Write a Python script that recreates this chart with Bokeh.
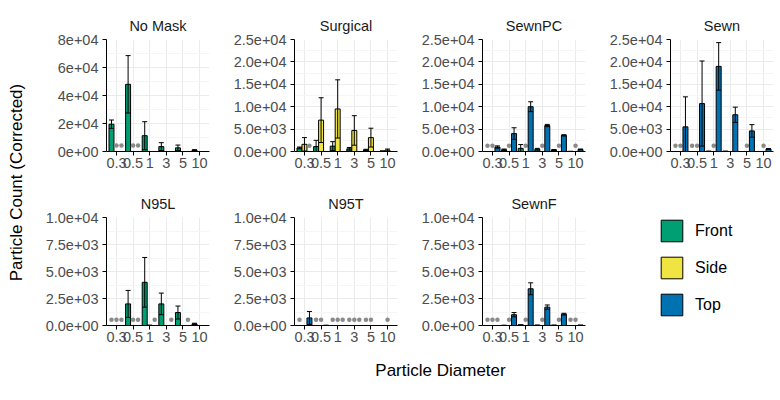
import math
from bokeh.plotting import figure
from bokeh.models import (ColumnDataSource, FactorRange, Range1d, FixedTicker,
                          Legend, LegendItem)
from bokeh.transform import dodge
from bokeh.layouts import row, column
from bokeh.core.properties import value
from bokeh.embed import file_html
from bokeh.resources import INLINE

# ---------------- data ----------------
categories = ["0.3", "0.5", "1", "3", "5", "10"]
locations = ["Front", "Side", "Top"]
location_colors = ["#009E73", "#F0E442", "#0072B2"]
panel_names = ["No Mask", "Surgical", "SewnPC", "Sewn", "N95L", "N95T", "SewnF"]

# mean particle counts (None = no bar) and standard deviations
nomask_front = [19500, 48000, 11300, 3500, 2600, 900]
nomask_front_sd = [3000, 20500, 10000, 2800, 2000, 400]
nomask_side = [None, None, None, None, None, None]
nomask_side_sd = [None, None, None, None, None, None]
nomask_top = [None, None, None, None, None, None]
nomask_top_sd = [None, None, None, None, None, None]
nomask_dots = [("0.3", "Side"), ("0.3", "Top"), ("0.5", "Side"), ("0.5", "Top")]

surgical_front = [800, 1100, 1200, 600, 350, 80]
surgical_front_sd = [200, 1400, 1000, 300, 150, 40]
surgical_side = [1600, 7000, 9500, 4700, 3100, 300]
surgical_side_sd = [1500, 5000, 6500, 3300, 2100, 250]
surgical_top = [None, None, None, None, None, None]
surgical_top_sd = [None, None, None, None, None, None]
surgical_dots = [("0.3", "Top")]

sewnpc_front = [None, 400, 700, 500, 350, 50]
sewnpc_front_sd = [None, 150, 850, 200, 100, 0]
sewnpc_side = [None, None, None, None, None, None]
sewnpc_side_sd = [None, None, None, None, None, None]
sewnpc_top = [1000, 4000, 10000, 5800, 3600, 450]
sewnpc_top_sd = [250, 1300, 1100, 250, 150, 100]
sewnpc_dots = [("0.3", "Front"), ("0.3", "Side"), ("0.5", "Side"), ("1", "Side"),
               ("3", "Side"), ("5", "Side"), ("10", "Side")]

sewn_front = [None, None, 100, 100, None, None]
sewn_front_sd = [None, None, 0, 0, None, None]
sewn_side = [None, None, None, None, None, None]
sewn_side_sd = [None, None, None, None, None, None]
sewn_top = [5500, 10700, 19000, 8200, 4600, 550]
sewn_top_sd = [6700, 9500, 5300, 1700, 1400, 100]
sewn_dots = [("0.3", "Front"), ("0.3", "Side"), ("0.5", "Front"), ("0.5", "Side"),
             ("1", "Side"), ("5", "Side"), ("10", "Side")]

n95l_front = [None, 2000, 4000, 2000, 1200, 150]
n95l_front_sd = [None, 1250, 2300, 1000, 600, 60]
n95l_side = [None, None, 40, None, None, None]
n95l_side_sd = [None, None, 0, None, None, None]
n95l_top = [None, None, None, None, None, None]
n95l_top_sd = [None, None, None, None, None, None]
n95l_dots = [("0.3", "Front"), ("0.3", "Side"), ("0.3", "Top"), ("0.5", "Side"),
             ("0.5", "Top"), ("1", "Top"), ("3", "Top"), ("5", "Top")]

n95t_front = [None, None, None, None, None, None]
n95t_front_sd = [None, None, None, None, None, None]
n95t_side = [None, None, None, None, None, None]
n95t_side_sd = [None, None, None, None, None, None]
n95t_top = [700, 30, None, None, None, None]
n95t_top_sd = [600, 0, None, None, None, None]
n95t_dots = [("0.3", "Front"), ("0.5", "Front"), ("0.5", "Side"),
             ("1", "Front"), ("1", "Side"), ("1", "Top"),
             ("3", "Front"), ("3", "Side"), ("3", "Top"),
             ("5", "Front"), ("5", "Side"), ("10", "Side")]

sewnf_front = [None, 30, 80, 50, 50, None]
sewnf_front_sd = [None, 0, 0, 0, 0, None]
sewnf_side = [None, None, None, None, None, None]
sewnf_side_sd = [None, None, None, None, None, None]
sewnf_top = [None, 1000, 3400, 1700, 1050, 50]
sewnf_top_sd = [None, 200, 550, 200, 80, 0]
sewnf_dots = [("0.3", "Front"), ("0.3", "Side"), ("0.3", "Top"), ("0.5", "Side"),
              ("1", "Side"), ("3", "Side"), ("5", "Side"), ("10", "Front"), ("10", "Side")]

# y scales
ticks_80k = [0, 20000, 40000, 60000, 80000]
labels_80k = ["0e+00", "2e+04", "4e+04", "6e+04", "8e+04"]
ticks_25k = [0, 5000, 10000, 15000, 20000, 25000]
labels_25k = ["0.0e+00", "5.0e+03", "1.0e+04", "1.5e+04", "2.0e+04", "2.5e+04"]
ticks_10k = [0, 2500, 5000, 7500, 10000]
labels_10k = ["0.0e+00", "2.5e+03", "5.0e+03", "7.5e+03", "1.0e+04"]

# level of grey marker points per panel
dot_levels = [4300, 1300, 1300, 1300, 540, 540, 540]

x_title = "Particle Diameter"
y_title = "Particle Count (Corrected)"

# ---------------- styling ----------------
FONT = "Liberation Sans"
offsets = [-0.3, 0.0, 0.3]
BAR_W = 0.3
PW, PH = 188, 174        # panel figure size
ML, MR, MT, MB = 78, 7, 39, 23


def style_axes(p):
    for ax in (p.xaxis, p.yaxis):
        ax.axis_line_color = "black"
        ax.axis_line_width = 1
        ax.major_tick_line_color = "black"
        ax.major_tick_out = 4
        ax.major_tick_in = 0
        ax.minor_tick_line_color = None
        ax.major_label_text_font = FONT
        ax.major_label_text_font_size = "14.5px"
        ax.major_label_text_color = "#4D4D4D"
    p.xaxis.major_label_standoff = 2
    p.yaxis.major_label_standoff = 4
    p.xgrid.grid_line_color = "#EBEBEB"
    p.ygrid.grid_line_color = "#EBEBEB"
    p.ygrid.minor_grid_line_color = "#F5F5F5"
    p.outline_line_color = None
    p.background_fill_color = "white"
    p.border_fill_color = "white"
    p.title.text_font = FONT
    p.title.text_font_size = "14.5px"
    p.title.text_font_style = "normal"
    p.title.text_color = "#1A1A1A"
    p.title.align = "center"
    p.title.standoff = 12


def make_panel(name, means, sds, dots, ymax, ticks, labels, dot_y):
    p = figure(width=PW, height=PH, title=name,
               x_range=FactorRange(factors=categories, range_padding=0.2 / 6),
               y_range=Range1d(0, ymax),
               output_backend="svg", toolbar_location=None,
               min_border_left=ML, min_border_right=MR,
               min_border_top=MT, min_border_bottom=MB)
    style_axes(p)
    minor = [(a + b) / 2 for a, b in zip(ticks[:-1], ticks[1:])]
    ticker = FixedTicker(ticks=ticks, minor_ticks=minor)
    p.yaxis.ticker = ticker
    p.ygrid.ticker = ticker
    p.yaxis.major_label_overrides = {t: l for t, l in zip(ticks, labels)}

    for loc, off, col, m_list, s_list in zip(locations, offsets, location_colors, means, sds):
        rows = [(c, m, s) for c, m, s in zip(categories, m_list, s_list) if m is not None]
        if rows:
            src = ColumnDataSource(dict(
                cat=[r[0] for r in rows],
                mean=[r[1] for r in rows],
            ))
            p.vbar(x=dodge("cat", off, range=p.x_range), top="mean", width=BAR_W,
                   source=src, fill_color=col, line_color="black", line_width=1)
            erows = [r for r in rows if r[2] and r[2] > 0]
            if erows:
                esrc = ColumnDataSource(dict(
                    cat=[r[0] for r in erows],
                    hi=[r[1] + r[2] for r in erows],
                    lo=[max(r[1] - r[2], 0) for r in erows],
                ))
                p.segment(x0=dodge("cat", off, range=p.x_range), y0="lo",
                          x1=dodge("cat", off, range=p.x_range), y1="hi",
                          source=esrc, line_color="black", line_width=1)
                p.segment(x0=dodge("cat", off - BAR_W / 2, range=p.x_range), y0="hi",
                          x1=dodge("cat", off + BAR_W / 2, range=p.x_range), y1="hi",
                          source=esrc, line_color="black", line_width=1)
                lrows = [r for r in erows if r[1] - r[2] >= 0]
                if lrows:
                    lsrc = ColumnDataSource(dict(
                        cat=[r[0] for r in lrows],
                        lo=[r[1] - r[2] for r in lrows],
                    ))
                    p.segment(x0=dodge("cat", off - BAR_W / 2, range=p.x_range), y0="lo",
                              x1=dodge("cat", off + BAR_W / 2, range=p.x_range), y1="lo",
                              source=lsrc, line_color="black", line_width=1)
        dcats = [c for c, l in dots if l == loc]
        if dcats:
            dsrc = ColumnDataSource(dict(cat=dcats, y=[dot_y] * len(dcats)))
            p.scatter(x=dodge("cat", off, range=p.x_range), y="y", source=dsrc,
                      size=4.5, fill_color="#8A8A8A", line_color=None)
    return p


panel_specs = [
    (panel_names[0], [nomask_front, nomask_side, nomask_top],
     [nomask_front_sd, nomask_side_sd, nomask_top_sd], nomask_dots, 80000, ticks_80k, labels_80k),
    (panel_names[1], [surgical_front, surgical_side, surgical_top],
     [surgical_front_sd, surgical_side_sd, surgical_top_sd], surgical_dots, 25000, ticks_25k, labels_25k),
    (panel_names[2], [sewnpc_front, sewnpc_side, sewnpc_top],
     [sewnpc_front_sd, sewnpc_side_sd, sewnpc_top_sd], sewnpc_dots, 25000, ticks_25k, labels_25k),
    (panel_names[3], [sewn_front, sewn_side, sewn_top],
     [sewn_front_sd, sewn_side_sd, sewn_top_sd], sewn_dots, 25000, ticks_25k, labels_25k),
    (panel_names[4], [n95l_front, n95l_side, n95l_top],
     [n95l_front_sd, n95l_side_sd, n95l_top_sd], n95l_dots, 10000, ticks_10k, labels_10k),
    (panel_names[5], [n95t_front, n95t_side, n95t_top],
     [n95t_front_sd, n95t_side_sd, n95t_top_sd], n95t_dots, 10000, ticks_10k, labels_10k),
    (panel_names[6], [sewnf_front, sewnf_side, sewnf_top],
     [sewnf_front_sd, sewnf_side_sd, sewnf_top_sd], sewnf_dots, 10000, ticks_10k, labels_10k),
]

panels = []
for i, (name, ms, ss, dots, ymax, tk, lb) in enumerate(panel_specs):
    panels.append(make_panel(name, ms, ss, dots, ymax, tk, lb, dot_levels[i]))

# legend panel (occupies the empty 8th facet slot)
leg = figure(width=PW, height=PH, x_range=Range1d(0, 1), y_range=Range1d(0, 1),
             output_backend="svg", toolbar_location=None,
             x_axis_location=None, y_axis_location=None,
             min_border_left=66, min_border_top=43, min_border_right=0, min_border_bottom=0)
leg.grid.visible = False
leg.outline_line_color = None
leg.background_fill_color = "white"
leg.border_fill_color = "white"
items = []
for loc, col in zip(locations, location_colors):
    # legend-key renderer: its single bar lies far outside the visible range
    r = leg.vbar(x=[50], bottom=[50], top=[51], width=0.3,
                 fill_color=col, line_color="black", line_width=1)
    items.append(LegendItem(label=loc, renderers=[r]))
legend = Legend(items=items, location="top_left", glyph_width=27, glyph_height=27,
                spacing=10, padding=0, margin=0, label_standoff=10,
                label_text_font=FONT, label_text_font_size="16px", label_text_color="black",
                border_line_color=None, background_fill_alpha=0)
leg.add_layout(legend)

# y axis title
YW = 28
yfig = figure(width=YW, height=2 * PH, x_range=Range1d(0, YW), y_range=Range1d(0, 2 * PH),
              output_backend="svg", toolbar_location=None,
              x_axis_location=None, y_axis_location=None, min_border=0)
yfig.grid.visible = False
yfig.outline_line_color = None
yfig.text(x=[16], y=[2 * PH - 182], text=[y_title], angle=math.pi / 2, text_align="center",
          text_baseline="middle", text_font=value(FONT), text_font_size="17px",
          text_color="black")

# x axis title
XH = 40
xfig = figure(width=YW + 4 * PW, height=XH, x_range=Range1d(0, YW + 4 * PW), y_range=Range1d(0, XH),
              output_backend="svg", toolbar_location=None,
              x_axis_location=None, y_axis_location=None, min_border=0)
xfig.grid.visible = False
xfig.outline_line_color = None
xfig.text(x=[440], y=[XH - 22], text=[x_title], text_align="center", text_baseline="middle",
          text_font=value(FONT), text_font_size="17px", text_color="black")

grid = column(row(panels[0], panels[1], panels[2], panels[3]),
              row(panels[4], panels[5], panels[6], leg))
layout = column(row(yfig, grid), xfig)

open("out.html", "w").write(file_html(layout, INLINE))
